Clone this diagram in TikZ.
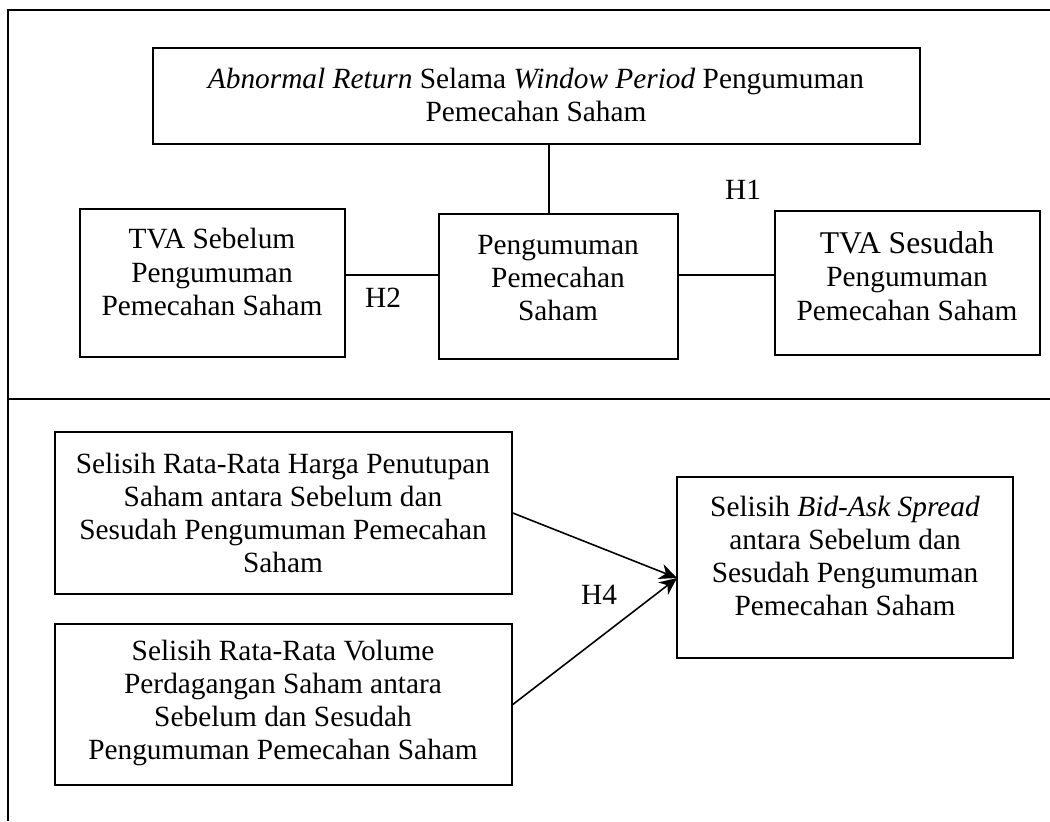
\documentclass[tikz,border=0pt]{standalone}
\usepackage{fontspec}
\setmainfont{Liberation Serif}
\usetikzlibrary{arrows.meta,fit}
\begin{document}
\begin{tikzpicture}[x=0.02cm,y=-0.02cm]
    \tikzset{box/.style={draw, line width=0.9pt, inner sep=0pt}}
    \tikzset{txt/.style={align=center, inner sep=0pt, font=\fontsize{16.7}{18.9}\selectfont}}
    \tikzset{frame/.style={line width=1.2pt}}
    \tikzset{link/.style={line width=0.9pt}}
    \useasboundingbox (0,0) rectangle (1050,821);

    % frame
    \draw[frame] (1050,10) -- (8,10) -- (8,821);
    \draw[frame] (8,399) -- (1050,399);

    % upper part
    \node[box, fit={(153,48) (920,144)}] (abn) {};
    \node[txt] (abnt) at (536,95) {\textit{Abnormal Return} Selama \textit{Window Period} Pengumuman\\Pemecahan Saham};

    \node[box, fit={(80,209) (345,357)}] (tvab) {};
    \node[txt] (tvabt) at (212,272) {TVA Sebelum\\Pengumuman\\Pemecahan Saham};

    \node[box, fit={(439,214) (678,359)}] (pgm) {};
    \node[txt] (pgmt) at (558,278) {Pengumuman\\Pemecahan\\Saham};

    \node[box, fit={(775,211) (1040,355)}] (tvas) {};
    \node[txt] (tvast) at (907,276) {{\fontsize{18}{20}\selectfont TVA Sesudah}\\Pengumuman\\Pemecahan Saham};

    \coordinate (lnk) at (549,0);
    \coordinate (lny) at (0,275);
    \draw[link] (abn.south -| lnk) -- (pgm.north -| lnk);
    \draw[link] (tvab.east |- lny) -- (pgm.west |- lny);
    \draw[link] (pgm.east |- lny) -- (tvas.west |- lny);

    \node[txt] (h1) at (743,190) {H1};
    \node[txt] (h2) at (383,298) {H2};

    % lower part
    \node[box, fit={(55,432) (512,594)}] (hrg) {};
    \node[txt] (hrgt) at (283,513) {Selisih Rata-Rata Harga Penutupan\\Saham antara Sebelum dan\\Sesudah Pengumuman Pemecahan\\Saham};

    \node[box, fit={(55,624) (512,785)}] (vol) {};
    \node[txt] (volt) at (283,703) {Selisih Rata-Rata Volume\\Perdagangan Saham antara\\Sebelum dan Sesudah\\Pengumuman Pemecahan Saham};

    \node[box, fit={(677,477) (1013,658)}] (sel) {};
    \node[txt] (selt) at (845,556) {Selisih \textit{Bid-Ask Spread}\\antara Sebelum dan\\Sesudah Pengumuman\\Pemecahan Saham};

    \coordinate (tip) at (677,578);
    \draw[link, -{Stealth[length=10pt, width=9pt]}] (hrg.east) -- (tip);
    \draw[link, -{Stealth[length=10pt, width=9pt]}] (vol.east) -- (tip);

    \node[txt] (h4) at (599,595) {H4};
\end{tikzpicture}
\end{document}
